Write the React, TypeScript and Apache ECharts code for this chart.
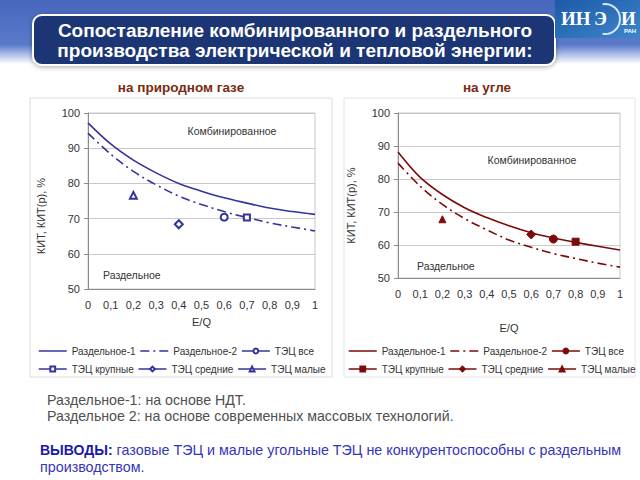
import React, { useEffect, useRef } from "react";
import * as echarts from "echarts";

// ---- data ----
const eqShares = [0, 0.1, 0.2, 0.3, 0.4, 0.5, 0.6, 0.7, 0.8, 0.9, 1];
const gasSeparate1 = [97.2, 91.2, 86.6, 83.0, 80.0, 77.8, 75.9, 74.4, 73.0, 72.0, 71.2];
const gasSeparate2 = [94.3, 88.3, 83.4, 79.6, 76.4, 74.0, 72.0, 70.3, 68.8, 67.6, 66.5];
const gasChpAll = [0.6, 70.4];
const gasChpLarge = [0.7, 70.3];
const gasChpMedium = [0.4, 68.4];
const gasChpSmall = [0.2, 76.6];

const coalSeparate1 = [88.2, 80.5, 75.3, 71.3, 68.3, 65.8, 63.7, 62.1, 60.8, 59.6, 58.5];
const coalSeparate2 = [84.8, 77.8, 72.3, 68.0, 64.6, 61.5, 59.3, 57.4, 55.9, 54.5, 53.3];
const coalChpAll = [0.7, 61.8];
const coalChpLarge = [0.8, 61.0];
const coalChpMedium = [0.6, 63.2];
const coalChpSmall = [0.2, 67.8];

const legendRow1 = ["Раздельное-1", "Раздельное-2", "ТЭЦ все"];
const legendRow2 = ["ТЭЦ крупные", "ТЭЦ средние", "ТЭЦ малые"];

const BLUE = "#34349e";
const RED = "#7e0a0a";
const FONT = "Liberation Sans, Arial, sans-serif";
const COAL = "|coal";

function App() {
  const ref = useRef<HTMLDivElement>(null);
  useEffect(() => {
    if (!ref.current) return;
    const chart = echarts.init(ref.current, undefined, { renderer: "svg" });

    const xAxisBase = (gridIndex: number, nameGap: number) => ({
      type: "value",
      gridIndex,
      min: 0,
      max: 1,
      interval: 0.1,
      name: "E/Q",
      nameLocation: "middle",
      nameGap,
      nameTextStyle: { fontSize: 11, color: "#333", fontFamily: FONT },
      axisLine: { show: true, lineStyle: { color: "#8c8c8c" } },
      axisTick: { show: false },
      splitLine: { show: false },
      axisLabel: {
        fontSize: 11,
        color: "#333",
        fontFamily: FONT,
        margin: 10,
        formatter: (v: number) => String(Math.round(v * 10) / 10).replace(".", ","),
      },
    });
    const yAxisBase = (gridIndex: number, shift: number) => ({
      type: "value",
      gridIndex,
      min: 50,
      max: 100,
      interval: 10,
      name: "КИТ, КИТ(р), %",
      nameLocation: "middle",
      nameGap: 42,
      nameRotate: 90,
      nameTextStyle: { fontSize: 11, color: "#333", fontFamily: FONT, padding: [0, shift, 0, 0] },
      axisLine: { show: true, lineStyle: { color: "#8c8c8c" } },
      axisTick: { show: true, length: 4, lineStyle: { color: "#8c8c8c" } },
      splitLine: { show: true, lineStyle: { color: "#c8c8c8" } },
      axisLabel: { fontSize: 11, color: "#333", fontFamily: FONT, margin: 8 },
    });

    const curve = (name: string, ys: number[], idx: number, color: string, dashed: boolean) => ({
      type: "line",
      name,
      xAxisIndex: idx,
      yAxisIndex: idx,
      data: eqShares.map((x, i) => [x, ys[i]]),
      smooth: 0.35,
      symbol: "none",
      lineStyle: { color, width: 1.6, type: dashed ? [9, 4, 2, 4] : "solid" },
      itemStyle: { color },
      z: 3,
    });
    const point = (name: string, p: number[], idx: number, color: string, symbol: string, size: number) => ({
      type: "line",
      name,
      xAxisIndex: idx,
      yAxisIndex: idx,
      data: [p],
      symbol,
      symbolSize: size,
      lineStyle: { color, width: 1.2 },
      itemStyle: { color, borderColor: color, borderWidth: 1 },
      z: 4,
    });

    const legendItems = (names: string[], suffix: string) =>
      names.map((n) =>
        n.startsWith("Раздельное")
          ? { name: n + suffix, itemStyle: { opacity: 0 } }
          : { name: n + suffix }
      );
    const legend = (names: string[], suffix: string, left: number, top: number) => ({
      data: legendItems(names, suffix),
      left,
      top,
      width: 300,
      orient: "horizontal",
      padding: 0,
      itemGap: 4,
      itemWidth: 28,
      itemHeight: 6,
      selectedMode: false,
      lineStyle: { width: 1.5 },
      formatter: (n: string) => n.split("|")[0],
      textStyle: { fontSize: 10, color: "#333", fontFamily: FONT },
    });

    const option: any = {
      animation: false,
      backgroundColor: "#ffffff",
      textStyle: { fontFamily: FONT },
      grid: [
        { left: 88, top: 113, width: 227, height: 176, show: true, borderColor: "#c8c8c8", borderWidth: 1 },
        { left: 398, top: 113, width: 222, height: 165, show: true, borderColor: "#c8c8c8", borderWidth: 1 },
      ],
      xAxis: [xAxisBase(0, 27), xAxisBase(1, 44)],
      yAxis: [yAxisBase(0, 30), yAxisBase(1, 20)],
      legend: [
        legend(legendRow1, "", 38, 346),
        legend(legendRow2, "", 38, 364),
        legend(legendRow1, COAL, 348, 346),
        legend(legendRow2, COAL, 348, 364),
      ],
      series: [
        curve("Раздельное-1", gasSeparate1, 0, BLUE, false),
        curve("Раздельное-2", gasSeparate2, 0, BLUE, true),
        point("ТЭЦ все", gasChpAll, 0, BLUE, "emptyCircle", 7),
        point("ТЭЦ крупные", gasChpLarge, 0, BLUE, "emptyRect", 6),
        point("ТЭЦ средние", gasChpMedium, 0, BLUE, "emptyDiamond", 8),
        point("ТЭЦ малые", gasChpSmall, 0, BLUE, "emptyTriangle", 7),
        curve("Раздельное-1" + COAL, coalSeparate1, 1, RED, false),
        curve("Раздельное-2" + COAL, coalSeparate2, 1, RED, true),
        point("ТЭЦ все" + COAL, coalChpAll, 1, RED, "circle", 8),
        point("ТЭЦ крупные" + COAL, coalChpLarge, 1, RED, "rect", 7),
        point("ТЭЦ средние" + COAL, coalChpMedium, 1, RED, "diamond", 9),
        point("ТЭЦ малые" + COAL, coalChpSmall, 1, RED, "triangle", 7),
      ],
      graphic: [
        // top band
        {
          type: "rect",
          z: -10,
          shape: { x: 0, y: 0, width: 640, height: 64 },
          style: {
            fill: new echarts.graphic.LinearGradient(0, 0, 0, 1, [
              { offset: 0, color: "#4667bd" },
              { offset: 0.7, color: "#5a7bcb" },
              { offset: 0.86, color: "#b3c4ea" },
              { offset: 1, color: "#ffffff" },
            ]),
          },
        },
        // panels
        { type: "rect", z: -9, shape: { x: 30, y: 98, width: 302, height: 279 }, style: { fill: "#fff", stroke: "#dcdcdc", lineWidth: 1 } },
        { type: "rect", z: -9, shape: { x: 344, y: 98, width: 291, height: 279 }, style: { fill: "#fff", stroke: "#e4e4e4", lineWidth: 1 } },
        // title box
        {
          type: "rect",
          z: 10,
          shape: { x: 33, y: 15, width: 522, height: 50, r: 9 },
          style: { fill: "#1e3574", stroke: "#ffffff", lineWidth: 2, shadowBlur: 5, shadowColor: "rgba(0,0,0,0.35)", shadowOffsetY: 1 },
        },
        {
          type: "text",
          z: 11,
          x: 295,
          y: 40,
          style: {
            text: "Сопоставление комбинированного и раздельного\nпроизводства электрической и тепловой энергии:",
            fill: "#ffffff",
            font: "bold 19px " + FONT,
            align: "center",
            verticalAlign: "middle",
            lineHeight: 20,
          },
        },
        // logo
        {
          type: "rect",
          z: 10,
          shape: { x: 555, y: 0, width: 85, height: 38 },
          style: {
            fill: new echarts.graphic.LinearGradient(0, 0, 1, 1, [
              { offset: 0, color: "#1c5aa8" },
              { offset: 1, color: "#3d86cb" },
            ]),
          },
        },
        { type: "arc", z: 11, shape: { cx: 605, cy: 19, r: 15, startAngle: -Math.PI * 0.55, endAngle: Math.PI * 0.55 }, style: { stroke: "#d8e6f6", lineWidth: 2, fill: "none" } },
        { type: "text", z: 12, x: 561, y: 18, style: { text: "ИН", fill: "#fff", font: "bold 19px Liberation Serif, serif", verticalAlign: "middle" } },
        { type: "text", z: 12, x: 594, y: 18, style: { text: "Э", fill: "#fff", font: "bold 19px Liberation Serif, serif", verticalAlign: "middle" } },
        { type: "text", z: 12, x: 621, y: 18, style: { text: "И", fill: "#fff", font: "bold 19px Liberation Serif, serif", verticalAlign: "middle" } },
        { type: "text", z: 12, x: 624, y: 31, style: { text: "РАН", fill: "#fff", font: "bold 6px " + FONT, verticalAlign: "middle" } },
        // subtitles
        { type: "text", x: 181, y: 87, style: { text: "на природном газе", fill: "#7a2a12", font: "bold 13.5px " + FONT, align: "center", verticalAlign: "middle" } },
        { type: "text", x: 487, y: 87, style: { text: "на угле", fill: "#7a2a12", font: "bold 13.5px " + FONT, align: "center", verticalAlign: "middle" } },
        // in-plot annotations
        { type: "text", x: 232, y: 131, style: { text: "Комбинированное", fill: "#333", font: "10.5px " + FONT, align: "center", verticalAlign: "middle" } },
        { type: "text", x: 103, y: 275, style: { text: "Раздельное", fill: "#333", font: "10.5px " + FONT, align: "left", verticalAlign: "middle" } },
        { type: "text", x: 532, y: 160, style: { text: "Комбинированное", fill: "#333", font: "10.5px " + FONT, align: "center", verticalAlign: "middle" } },
        { type: "text", x: 417, y: 266, style: { text: "Раздельное", fill: "#333", font: "10.5px " + FONT, align: "left", verticalAlign: "middle" } },
        // notes
        {
          type: "text",
          x: 47,
          y: 408,
          style: {
            text: "Раздельное-1: на основе НДТ.\nРаздельное 2: на основе современных массовых технологий.",
            fill: "#505050",
            font: "14.2px " + FONT,
            lineHeight: 16,
            verticalAlign: "middle",
          },
        },
        {
          type: "text",
          x: 40,
          y: 458,
          style: {
            text: "{b|ВЫВОДЫ:} газовые ТЭЦ и малые угольные ТЭЦ не конкурентоспособны с раздельным\nпроизводством.",
            fill: "#3535b8",
            font: "14.3px " + FONT,
            lineHeight: 17,
            verticalAlign: "middle",
            rich: {
              b: { fill: "#1a1aa8", font: "bold 14px " + FONT },
            },
          },
        },
      ],
    };
    chart.setOption(option);
    return () => chart.dispose();
  }, []);
  return <div ref={ref} style={{ width: 640, height: 480, position: "absolute", left: 0, top: 0 }} />;
}

export default App;
